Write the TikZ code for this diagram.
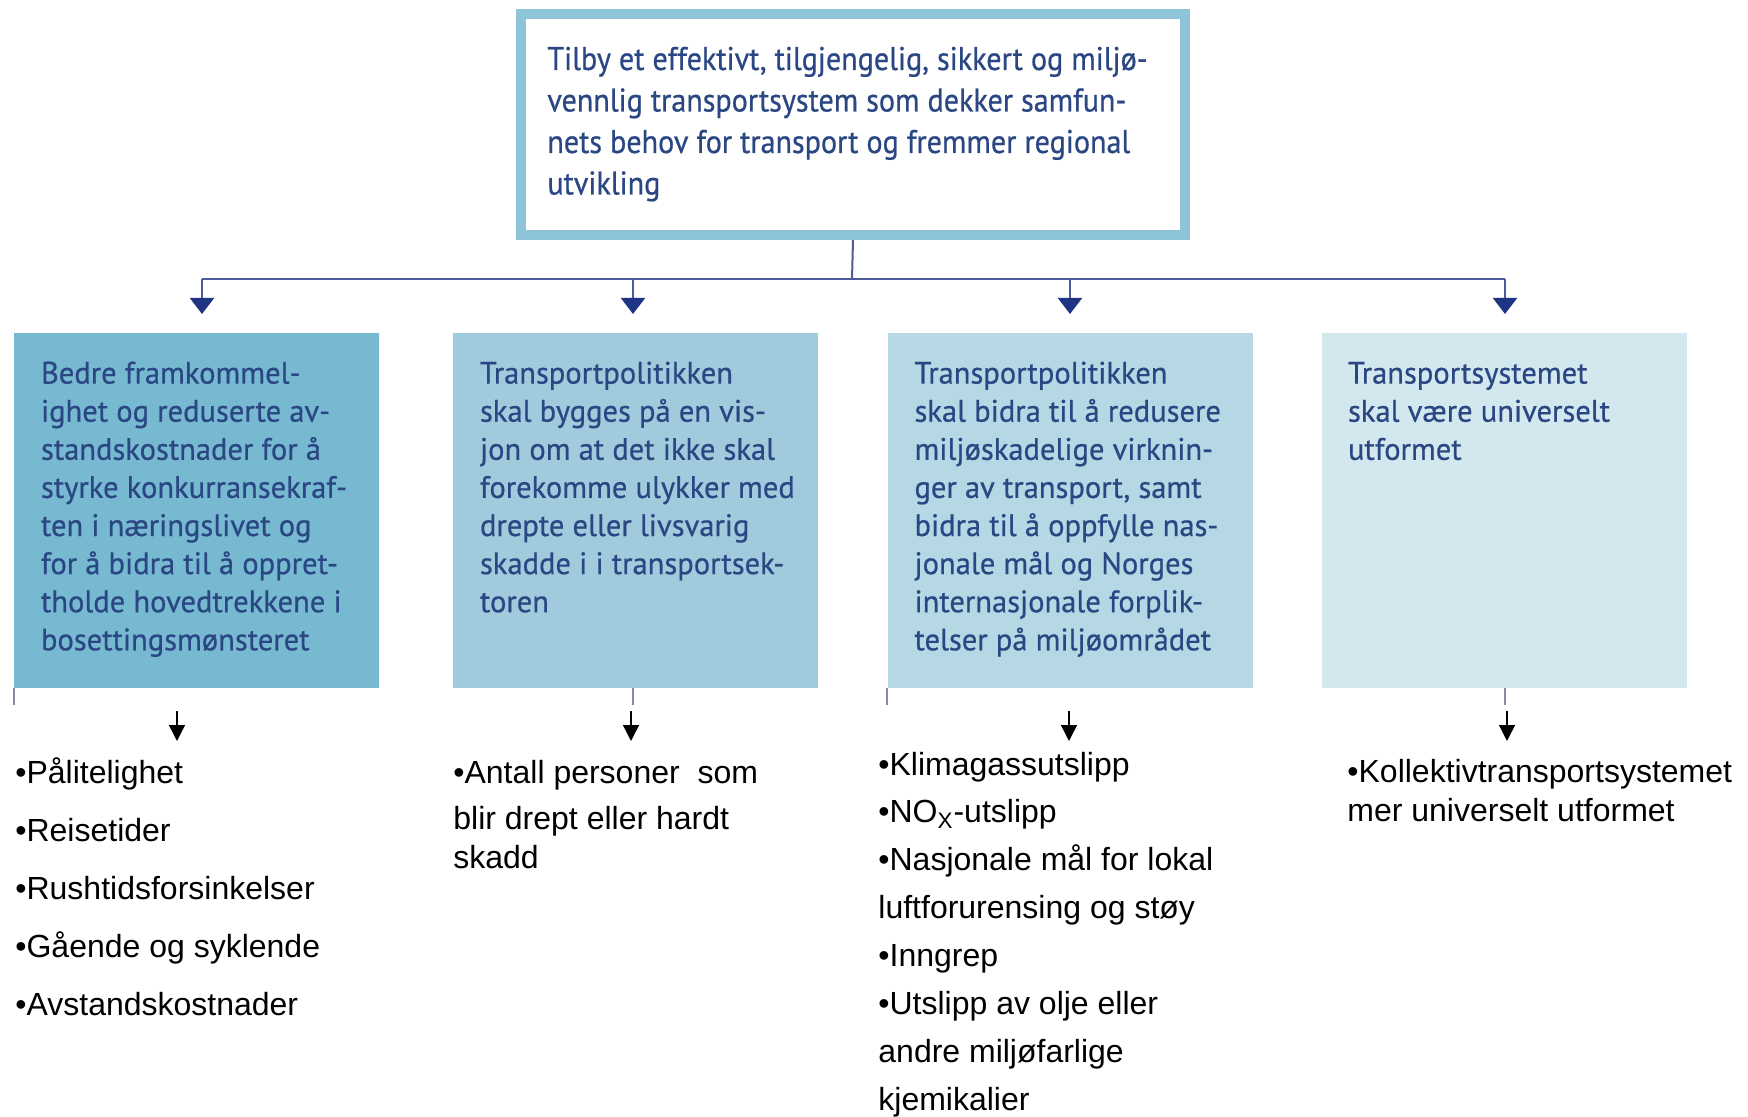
\documentclass[tikz,border=0pt]{standalone}
\usepackage{fontspec}
\setmainfont{Liberation Sans}
\newfontfamily\boxfont[FakeStretch=0.985,FakeBold=0.6]{PT Sans}
\newfontfamily\goalfont[FakeStretch=0.918,FakeBold=0.6]{PT Sans}
\usetikzlibrary{arrows.meta,calc}
\definecolor{topborder}{HTML}{8EC4D8}
\definecolor{boxA}{HTML}{78B9D2}
\definecolor{boxB}{HTML}{A0CBDC}
\definecolor{boxC}{HTML}{B6D8E4}
\definecolor{boxD}{HTML}{D3E7EE}
\definecolor{navytext}{HTML}{2A4784}
\definecolor{connline}{HTML}{4F5B98}
\definecolor{connhead}{HTML}{1F3483}
\definecolor{tickcol}{HTML}{8C88AA}
\newcommand\textblock[2]{\vtop{\hsize=14cm\parindent=0pt\baselineskip=#1\relax\raggedright #2\par}}
\begin{document}
\begin{tikzpicture}[x=0.5pt,y=-0.5pt,
  goalbox/.style={draw=topborder,line width=5pt,fill=white,minimum width=332pt,minimum height=110.5pt,inner sep=0pt},
  subbox/.style={minimum width=182.5pt,minimum height=177.5pt,inner sep=0pt},
  boxtext/.style={anchor=base west,inner sep=0pt,text=navytext,font=\boxfont\fontsize{15.5}{19.05}\selectfont},
  toptext/.style={anchor=base west,inner sep=0pt,text=navytext,font=\goalfont\fontsize{16.4}{20.75}\selectfont},
  listtext/.style={anchor=base west,inner sep=0pt,text=black,font=\fontsize{16}{19.5}\selectfont},
  conn/.style={draw=connline,line width=1pt},
  navyarrow/.style={conn,-{Triangle[width=12pt,length=8pt,fill=connhead,color=connhead]}},
  blackarrow/.style={draw=black,line width=0.7pt,-{Triangle[width=8pt,length=8pt]}},
  tick/.style={draw=tickcol,line width=1pt}]
\useasboundingbox (0,0) rectangle (1748,1117);
\fill[white] (0,0) rectangle (1748,1117);

% goal box
\node[goalbox] (top) at (853,124.5) {};
\node[toptext] (toptxt) at (547,70) {\textblock{20.75pt}{Tilby et effektivt, tilgjengelig, sikkert og miljø-\\vennlig transportsystem som dekker samfun-\\nets behov for transport og fremmer regional\\utvikling}};

% sub boxes
\node[subbox,fill=boxA] (b1) at (196.5,510.5) {};
\node[subbox,fill=boxB] (b2) at (635.5,510.5) {};
\node[subbox,fill=boxC] (b3) at (1070,510.5) {};
\node[subbox,fill=boxD] (b4) at (1504.5,510.5) {};

\node[boxtext] (t1) at ($(b1.north west)+(27,51)$) {\textblock{19.05pt}{Bedre framkommel-\\ighet og reduserte av-\\standskostnader for å\\styrke konkurransekraf-\\ten i næringslivet og\\for å bidra til å oppret-\\tholde hovedtrekkene i\\bosettingsmønsteret}};
\node[boxtext] (t2) at ($(b2.north west)+(27,51)$) {\textblock{19.05pt}{Transportpolitikken\\skal bygges på en vis-\\jon om at det ikke skal\\forekomme ulykker med\\drepte eller livsvarig\\skadde i i transportsek-\\toren}};
\node[boxtext] (t3) at ($(b3.north west)+(27,51)$) {\textblock{19.05pt}{Transportpolitikken\\skal bidra til å redusere\\miljøskadelige virknin-\\ger av transport, samt\\bidra til å oppfylle nas-\\jonale mål og Norges\\internasjonale forplik-\\telser på miljøområdet}};
\node[boxtext] (t4) at ($(b4.north west)+(26,51)$) {\textblock{19.05pt}{Transportsystemet\\skal være universelt\\utformet}};

% connectors from goal box
\coordinate (bus) at (852,279);
\coordinate (h1) at (202,314);
\coordinate (h2) at (633,314);
\coordinate (h3) at (1070,314);
\coordinate (h4) at (1505,314);
\draw[conn] (top.south) -- (bus);
\draw[conn] (h1 |- bus) -- (h4 |- bus);
\foreach \h in {h1,h2,h3,h4} \draw[navyarrow] (\h |- bus) -- (\h);

% small ticks under boxes
\draw[tick] (b1.south west) -- ++(0,17);
\draw[tick] ($(b2.south)+(-2.5,0)$) -- ++(0,17);
\draw[tick] (b3.south west) -- ++(0,17);
\draw[tick] (b4.south) -- ++(0,17);

% black arrows
\coordinate (d1s) at (177,711); \coordinate (d1e) at (177,741);
\coordinate (d2s) at (631,711); \coordinate (d2e) at (631,741);
\coordinate (d3s) at (1069,711); \coordinate (d3e) at (1069,741);
\coordinate (d4s) at (1507,711); \coordinate (d4e) at (1507,741);
\foreach \i in {1,2,3,4} \draw[blackarrow] (d\i s) -- (d\i e);

% lists
\node[listtext] (l1) at (15,783) {\textblock{29pt}{•Pålitelighet\\•Reisetider\\•Rushtidsforsinkelser\\•Gående og syklende\\•Avstandskostnader}};
\node[listtext] (l2) at (453,783) {\textblock{19.5pt}{•Antall personer\ \ som\\[3.5pt]blir drept eller hardt\\skadd}};
\node[listtext] (l3) at (878,775) {\textblock{23.95pt}{•Klimagassutslipp\\•NO\textsubscript{X}-utslipp\\•Nasjonale mål for lokal\\luftforurensing og støy\\•Inngrep\\•Utslipp av olje eller\\andre miljøfarlige\\kjemikalier}};
\node[listtext] (l4) at (1347,782) {\textblock{19.5pt}{•Kollektivtransportsystemet\\mer universelt utformet}};
\end{tikzpicture}
\end{document}
